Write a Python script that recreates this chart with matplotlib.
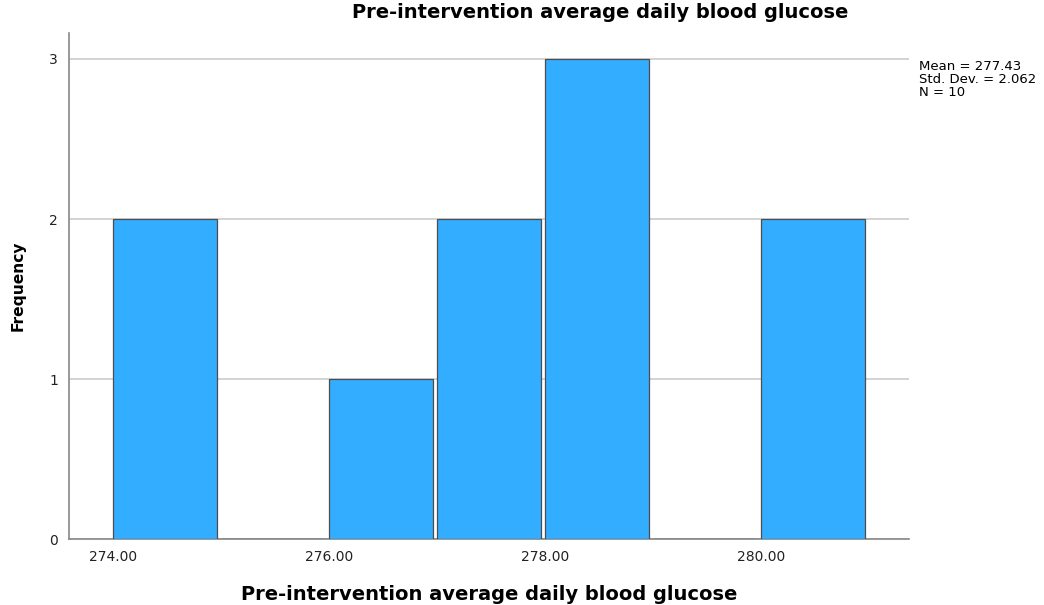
import matplotlib
matplotlib.use('Agg')
import matplotlib.pyplot as plt
import numpy as np

plt.rcParams['font.family'] = ['DejaVu Sans']

# histogram bins (left edges) and counts
bin_edges = [274, 275, 276, 277, 278, 279, 280, 281]
counts = [2, 0, 1, 2, 3, 0, 2]
x_ticks = [274, 276, 278, 280]
x_tick_labels = ['274.00', '276.00', '278.00', '280.00']
y_ticks = [0, 1, 2, 3]
stats_text = 'Mean = 277.43\nStd. Dev. = 2.062\nN = 10'
title = 'Pre-intervention average daily blood glucose'

fig = plt.figure(figsize=(10.44, 6.05), dpi=100)
ax = fig.add_axes([0.0661, 0.109, 0.8046, 0.8365])

lefts = np.array(bin_edges[:-1])
widths = np.diff(bin_edges)
ax.bar(lefts, counts, width=widths * 0.96, align='edge',
       color='#33adff', edgecolor='#4d4d4d', linewidth=0.9, zorder=3)

ax.set_xlim(273.593, 281.37)
ax.set_ylim(0, 3.1625)
ax.set_xticks(x_ticks)
ax.set_xticklabels(x_tick_labels)
ax.set_yticks(y_ticks)
ax.tick_params(length=0, labelsize=10, colors='#222222', pad=8)
ax.grid(axis='y', color='#cccccc', linewidth=1.2, zorder=0)

for s in ['top', 'right']:
    ax.spines[s].set_visible(False)
for s in ['left', 'bottom']:
    ax.spines[s].set_color('#888888')
    ax.spines[s].set_linewidth(1.2)

ax.set_ylabel('Frequency', fontsize=11.2, fontweight='bold', labelpad=17)
ax.set_xlabel(title, fontsize=14, fontweight='bold', labelpad=15)
fig.text(600 / 1044, 1 - 12 / 605, title, ha='center', va='center',
         fontsize=14, fontweight='bold')
fig.text(919 / 1044, 1 - 60 / 605, stats_text, ha='left', va='top',
         fontsize=9.5, linespacing=1.0)

fig.savefig('out.png', dpi=100)
